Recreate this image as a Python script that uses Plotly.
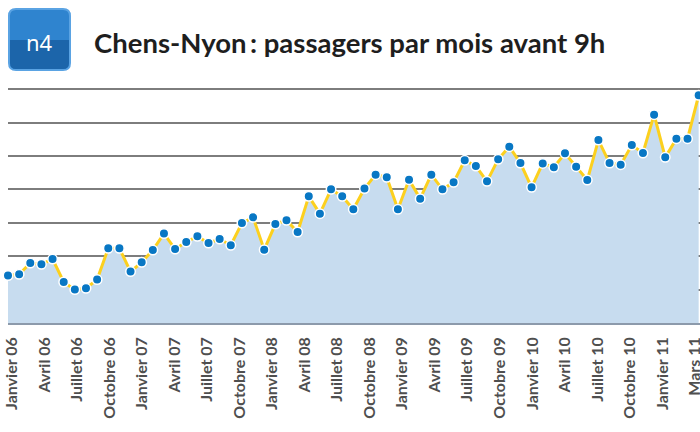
import plotly.graph_objects as go
import pandas as pd

# ---- data -----------------------------------------------------------
months = [d.strftime("%Y-%m") for d in pd.date_range("2006-01-01", periods=63, freq="MS")]
passengers = [
    710, 729, 898, 879, 958, 614, 500, 520, 650, 1119, 1119, 770,
    909, 1093, 1339, 1108, 1213, 1298, 1198, 1258, 1164, 1497, 1583, 1099,
    1482, 1538, 1363, 1897, 1638, 2002, 1897, 1703, 2013, 2222, 2182, 1703,
    2147, 1863, 2222, 2002, 2107, 2436, 2351, 2122, 2451, 2641, 2396, 2032,
    2391, 2332, 2541, 2342, 2141, 2740, 2396, 2372, 2665, 2546, 3121, 2481,
    2761, 2761, 3410,
]
tick_labels = ["Janvier 06", "Avril 06", "Juillet 06", "Octobre 06", "Janvier 07",
               "Avril 07", "Juillet 07", "Octobre 07", "Janvier 08", "Avril 08",
               "Juillet 08", "Octobre 08", "Janvier 09", "Avril 09", "Juillet 09",
               "Octobre 09", "Janvier 10", "Avril 10", "Juillet 10", "Octobre 10",
               "Janvier 11", "Mars 11"]
title = "Chens-Nyon\u2009: passagers par mois avant 9h"
label_slots = list(range(len(tick_labels)))

# ---- layout geometry ------------------------------------------------
W, H = 700, 432
L, R, T, B = 8, 0, 86, 109
PW, PH = W - L - R, H - T - B


def px(x):
    return (x - L) / PW


def py(y):
    return (H - B - y) / PH


def rounded_rect(x0, y0, x1, y1, r, top_round=True):
    p = f"M {px(x0 + r)},{py(y0)} " if top_round else f"M {px(x0)},{py(y0)} "
    if top_round:
        p += f"L {px(x1 - r)},{py(y0)} Q {px(x1)},{py(y0)} {px(x1)},{py(y0 + r)} "
    else:
        p += f"L {px(x1)},{py(y0)} "
    p += f"L {px(x1)},{py(y1 - r)} Q {px(x1)},{py(y1)} {px(x1 - r)},{py(y1)} "
    p += f"L {px(x0 + r)},{py(y1)} Q {px(x0)},{py(y1)} {px(x0)},{py(y1 - r)} "
    if top_round:
        p += f"L {px(x0)},{py(y0 + r)} Q {px(x0)},{py(y0)} {px(x0 + r)},{py(y0)} Z"
    else:
        p += f"L {px(x0)},{py(y0)} Z"
    return p


fig = go.Figure()
fig.add_trace(go.Scatter(
    x=months, y=passengers, mode="lines+markers",
    fill="tozeroy", fillcolor="#c7dcef",
    line=dict(color="#fcd01e", width=3),
    marker=dict(color="#0877c4", size=9.5, line=dict(color="white", width=1.5)),
    cliponaxis=False, hoverinfo="skip",
))
# invisible carrier trace so that the label axis is drawn
fig.add_trace(go.Scatter(
    x=label_slots, y=[0] * len(label_slots), xaxis="x2", yaxis="y",
    mode="markers", marker=dict(opacity=0, size=1), hoverinfo="skip",
    showlegend=False,
))

fig.update_layout(
    width=W, height=H,
    margin=dict(l=L, r=R, t=T, b=B, pad=0),
    paper_bgcolor="white", plot_bgcolor="white",
    showlegend=False,
    xaxis=dict(
        type="category", range=[0, 62.12],
        showticklabels=False, ticks="", showgrid=False, zeroline=False,
        showline=True, linecolor="#8c9aab", linewidth=2, automargin=False,
    ),
    xaxis2=dict(
        type="linear", overlaying="x", anchor="y", side="bottom",
        range=[-0.123, 21.156],
        tickmode="array", tickvals=label_slots, ticktext=tick_labels,
        tickangle=-90, ticks="", showgrid=False, zeroline=False, showline=False,
        tickfont=dict(family="Lato", size=16, color="#4f4f4f", weight="bold"),
        ticklabelstandoff=10, ticklabeloverflow="allow", automargin=False,
    ),
    yaxis=dict(
        range=[0, 3550], dtick=500, showticklabels=False, ticks="",
        showgrid=True, gridcolor="#7d7d7d", gridwidth=2, zeroline=False,
        showline=False, automargin=False,
    ),
    shapes=[
        dict(type="path", xref="paper", yref="paper",
             path=rounded_rect(9, 9, 70, 70, 7),
             fillcolor="#2f84cf", line=dict(color="#5aa3e3", width=2), layer="above"),
        dict(type="path", xref="paper", yref="paper",
             path=rounded_rect(10, 40, 69, 69, 6, top_round=False),
             fillcolor="#1c65aa", line=dict(width=0), layer="above"),
    ],
    annotations=[
        dict(text="n4", xref="paper", yref="paper", x=px(39.5), y=py(42),
             xanchor="center", yanchor="middle", showarrow=False,
             font=dict(family="Noto Sans", size=22, color="white")),
        dict(text=title, xref="paper", yref="paper", x=px(92), y=py(42),
             xanchor="left", yanchor="middle", showarrow=False,
             font=dict(family="Lato", size=27.5, color="#1e1e1e", weight="bold")),
    ],
)

fig.write_html(
    "out.html",
    config={"displayModeBar": False},
    post_script="document.body.style.margin='0';document.body.style.padding='0';"
                "document.body.style.overflow='hidden';",
)
